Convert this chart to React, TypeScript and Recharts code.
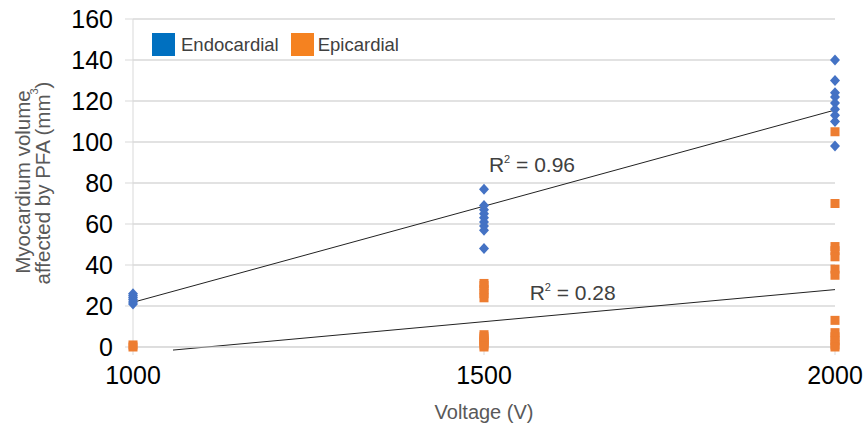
import React from 'react';
import {
  ScatterChart,
  Scatter,
  XAxis,
  YAxis,
  CartesianGrid,
  ReferenceLine,
  ReferenceDot,
} from 'recharts';

const VOLTAGES = [1000, 1500, 2000];
const ENDO_VALUES = [
  [21, 22, 23, 24, 25, 26],
  [77, 69, 67, 65, 63, 61, 59, 57, 48],
  [140, 130, 124, 122, 119, 116, 113, 110, 98],
];
const EPI_VALUES = [
  [0, 1],
  [24, 26, 28, 30, 31, 0, 1, 2, 3, 4, 5, 6],
  [105, 70, 49, 47, 44, 38, 35, 13, 7, 5, 3, 1, 0],
];
const ENDO_TREND = [
  { x: 1000, y: 21.8 },
  { x: 2000, y: 115.6 },
];
const EPI_TREND = [
  { x: 1057, y: -1.5 },
  { x: 2000, y: 28 },
];
const ENDO_R2 = { x: 1507, y: 85.4, text: '0.96' };
const EPI_R2 = { x: 1565, y: 23, text: '0.28' };
const SERIES_NAMES = ['Endocardial', 'Epicardial'];
const X_TICKS = [1000, 1500, 2000];
const Y_TICKS = [0, 20, 40, 60, 80, 100, 120, 140, 160];
const X_TITLE = 'Voltage (V)';
const Y_TITLE_1 = 'Myocardium volume';
const Y_TITLE_2 = 'affected by PFA (mm';

const FONT = '"Liberation Sans", Arial, sans-serif';
const BLUE = '#4472C4';
const ORANGE = '#ED7D31';
const GRID = '#d9d9d9';

const toPoints = (values: number[][]) =>
  VOLTAGES.flatMap((v, i) => values[i].map((y) => ({ x: v, y })));

const endoData = toPoints(ENDO_VALUES);
const epiData = toPoints(EPI_VALUES);

const Diamond = (props: any) => {
  const { cx, cy } = props;
  return (
    <polygon
      points={`${cx},${cy - 5.5} ${cx + 5},${cy} ${cx},${cy + 5.5} ${cx - 5},${cy}`}
      fill={BLUE}
    />
  );
};

const Square = (props: any) => {
  const { cx, cy } = props;
  return <rect x={cx - 4.5} y={cy - 4.5} width={9} height={9} fill={ORANGE} />;
};

const R2Label = (text: string) => (props: any) => {
  const { viewBox } = props;
  const x = viewBox.x + (viewBox.width || 0) / 2;
  const y = viewBox.y + (viewBox.height || 0) / 2;
  return (
    <text x={x} y={y} fill="#404040" fontSize={21} fontFamily={FONT}>
      <tspan>R</tspan>
      <tspan dy={-9} fontSize={11}>2</tspan>
      <tspan dy={9}>{` = ${text}`}</tspan>
    </text>
  );
};

const YTitle = (props: any) => {
  const { viewBox } = props;
  const cy = viewBox.y + viewBox.height / 2;
  return (
    <g fill="#595959" fontSize={20.5} fontFamily={FONT}>
      <text
        transform={`translate(22, ${cy - 1}) rotate(-90)`}
        textAnchor="middle"
        dominantBaseline="central"
      >
        {Y_TITLE_1}
      </text>
      <text
        transform={`translate(42, ${cy}) rotate(-90)`}
        textAnchor="middle"
        dominantBaseline="central"
      >
        <tspan>{Y_TITLE_2}</tspan>
        <tspan dy={-8} fontSize={11}>3</tspan>
        <tspan dy={8}>)</tspan>
      </text>
    </g>
  );
};

const XTitle = (props: any) => {
  const { viewBox } = props;
  const cx = viewBox.x + viewBox.width / 2;
  return (
    <text x={cx} y={419} textAnchor="middle" fill="#595959" fontSize={20} fontFamily={FONT}>
      {X_TITLE}
    </text>
  );
};

export default function App() {
  return (
    <div
      style={{
        position: 'absolute',
        left: 0,
        top: 0,
        width: 865,
        height: 427,
        background: '#fff',
        fontFamily: FONT,
      }}
    >
      <ScatterChart
        width={865}
        height={427}
        margin={{ top: 19, right: 30, bottom: 0, left: 0 }}
      >
        <CartesianGrid vertical={false} stroke={GRID} strokeWidth={1.5} />
        <XAxis
          type="number"
          dataKey="x"
          domain={[1000, 2000]}
          ticks={X_TICKS}
          height={80}
          stroke={GRID}
          tickSize={8}
          tickMargin={11}
          tick={{ fill: '#000', fontSize: 25, fontFamily: FONT }}
          label={<XTitle />}
        />
        <YAxis
          type="number"
          dataKey="y"
          domain={[0, 160]}
          ticks={Y_TICKS}
          width={133}
          stroke={GRID}
          tickSize={8}
          tickMargin={12}
          tick={{ fill: '#000', fontSize: 25, fontFamily: FONT }}
          label={<YTitle />}
        />
        <Scatter
          name={SERIES_NAMES[0]}
          data={endoData}
          shape={<Diamond />}
          isAnimationActive={false}
        />
        <Scatter
          name={SERIES_NAMES[1]}
          data={epiData}
          shape={<Square />}
          isAnimationActive={false}
        />
        <ReferenceLine
          segment={ENDO_TREND}
          stroke="#222"
          strokeWidth={1}
          ifOverflow="visible"
        />
        <ReferenceLine
          segment={EPI_TREND}
          stroke="#222"
          strokeWidth={1}
          ifOverflow="visible"
        />
        <ReferenceDot
          x={ENDO_R2.x}
          y={ENDO_R2.y}
          r={0}
          stroke="none"
          fill="none"
          label={R2Label(ENDO_R2.text)}
        />
        <ReferenceDot
          x={EPI_R2.x}
          y={EPI_R2.y}
          r={0}
          stroke="none"
          fill="none"
          label={R2Label(EPI_R2.text)}
        />
      </ScatterChart>
      <div
        style={{
          position: 'absolute',
          left: 152,
          top: 33,
          display: 'flex',
          alignItems: 'center',
          fontSize: 18.5,
          color: '#404040',
          fontFamily: FONT,
        }}
      >
        <span style={{ width: 23, height: 23, background: '#0070C0', display: 'inline-block' }} />
        <span style={{ marginLeft: 6, marginRight: 12 }}>{SERIES_NAMES[0]}</span>
        <span style={{ width: 23, height: 23, background: '#F58220', display: 'inline-block' }} />
        <span style={{ marginLeft: 4 }}>{SERIES_NAMES[1]}</span>
      </div>
    </div>
  );
}
